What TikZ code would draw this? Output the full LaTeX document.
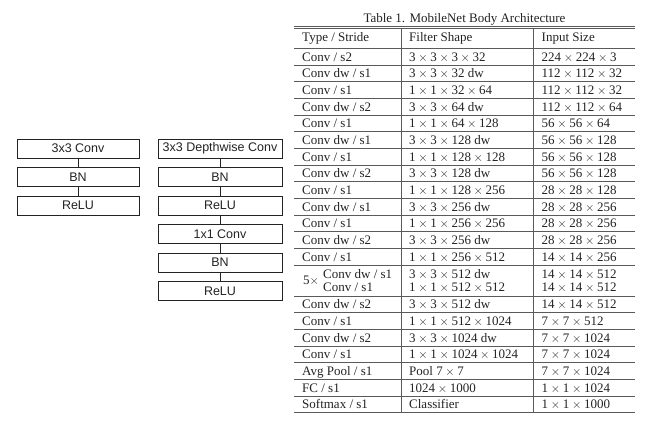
\documentclass[tikz,border=0pt]{standalone}
\usepackage{fontspec}
\setmainfont{Liberation Serif}
\newfontfamily\boxfont{Liberation Sans}
\usepackage{tikz}
\usetikzlibrary{positioning, calc}

\definecolor{inkgray}{RGB}{35, 35, 35}
\definecolor{rulegray}{RGB}{90, 90, 90}

\newcommand{\by}{\ensuremath{{}\times{}}}

\tikzset{
  layerbox/.style={draw=inkgray, line width=0.9pt, minimum height=19pt, inner sep=0pt,
    font=\boxfont\fontsize{12.5}{14}\selectfont, text=inkgray},
  cell/.style={anchor=base west, inner sep=0pt, font=\fontsize{13}{15}\selectfont, text=inkgray},
  tabrule/.style={draw=rulegray, line width=0.8pt}
}

\begin{document}
\begin{tikzpicture}[x=1pt, y=-1pt]
  \useasboundingbox (0,0) rectangle (650,422);

  % Standard convolution block
  \node[layerbox, minimum width=122pt] (sconv) at (78, 148.5) {3x3 Conv};
  \node[layerbox, minimum width=122pt] (sbn) at (78, 177) {BN};
  \node[layerbox, minimum width=122pt] (srelu) at (78, 205.5) {ReLU};
  \draw[inkgray, line width=0.9pt] (sconv) -- (sbn);
  \draw[inkgray, line width=0.9pt] (sbn) -- (srelu);

  % Depthwise separable block
  \node[layerbox, minimum width=124pt] (dwconv) at (220, 148.5) {3x3 Depthwise Conv};
  \node[layerbox, minimum width=124pt] (dwbn) at (220, 177) {BN};
  \node[layerbox, minimum width=124pt] (dwrelu) at (220, 205.5) {ReLU};
  \node[layerbox, minimum width=124pt] (pwconv) at (220, 234) {1x1 Conv};
  \node[layerbox, minimum width=124pt] (pwbn) at (220, 262.5) {BN};
  \node[layerbox, minimum width=124pt] (pwrelu) at (220, 291) {ReLU};
  \foreach \a/\b in {dwconv/dwbn, dwbn/dwrelu, dwrelu/pwconv, pwconv/pwbn, pwbn/pwrelu}
    \draw[inkgray, line width=0.9pt] (\a) -- (\b);

  % Table title and header
  \node[anchor=base, inner sep=0pt, font=\fontsize{13}{15}\selectfont, text=inkgray] (title) at (464.5, 22.5) {Table 1. MobileNet Body Architecture};
  \node[cell] (htype) at (302, 41.8) {Type / Stride};
  \node[cell] (hfilter) at (409, 41.8) {Filter Shape};
  \node[cell] (hinput) at (541.5, 41.8) {Input Size};

  % Table rules
  \draw[tabrule] (294, 26.5) -- (635, 26.5);
  \draw[tabrule] (294, 28.5) -- (635, 28.5);
  \draw[tabrule] (294, 48.3) -- (635, 48.3);
  \foreach \i in {1,...,13}
    \draw[tabrule] (294, {48.3+\i*16.67}) -- (635, {48.3+\i*16.67});
  \foreach \i in {0,...,7}
    \draw[tabrule] (294, {296+\i*16.67}) -- (635, {296+\i*16.67});
  \draw[tabrule] (401, 28.5) -- (401, 412.7);
  \draw[tabrule] (533, 28.5) -- (533, 412.7);

  % Rows before the repeated block
  \foreach \ty/\st/\fs/\is [count=\i] in {
      Conv/s2/{3\by 3\by 3\by 32}/{224\by 224\by 3},
      Conv dw/s1/{3\by 3\by 32 dw}/{112\by 112\by 32},
      Conv/s1/{1\by 1\by 32\by 64}/{112\by 112\by 32},
      Conv dw/s2/{3\by 3\by 64 dw}/{112\by 112\by 64},
      Conv/s1/{1\by 1\by 64\by 128}/{56\by 56\by 64},
      Conv dw/s1/{3\by 3\by 128 dw}/{56\by 56\by 128},
      Conv/s1/{1\by 1\by 128\by 128}/{56\by 56\by 128},
      Conv dw/s2/{3\by 3\by 128 dw}/{56\by 56\by 128},
      Conv/s1/{1\by 1\by 128\by 256}/{28\by 28\by 128},
      Conv dw/s1/{3\by 3\by 256 dw}/{28\by 28\by 256},
      Conv/s1/{1\by 1\by 256\by 256}/{28\by 28\by 256},
      Conv dw/s2/{3\by 3\by 256 dw}/{28\by 28\by 256},
      Conv/s1/{1\by 1\by 256\by 512}/{14\by 14\by 256}} {
    \node[cell] (type\i) at (302, {48.3+(\i-0.5)*16.67+4.4}) {\ty{} / \st};
    \node[cell] (filter\i) at (409, {48.3+(\i-0.5)*16.67+4.4}) {\fs};
    \node[cell] (input\i) at (541.5, {48.3+(\i-0.5)*16.67+4.4}) {\is};
  }

  % Repeated block
  \node[cell] (times) at (303, 284.4) {5$\times$};
  \node[cell] (rdwtype) at (323, 278) {Conv dw / s1};
  \node[cell] (rdwfilter) at (409, 278) {3\by 3\by 512 dw};
  \node[cell] (rdwinput) at (541.5, 278) {14\by 14\by 512};
  \node[cell] (rpwtype) at (323, 291.5) {Conv / s1};
  \node[cell] (rpwfilter) at (409, 291.5) {1\by 1\by 512\by 512};
  \node[cell] (rpwinput) at (541.5, 291.5) {14\by 14\by 512};

  % Rows after the repeated block
  \foreach \ty/\st/\fs/\is [count=\i] in {
      Conv dw/s2/{3\by 3\by 512 dw}/{14\by 14\by 512},
      Conv/s1/{1\by 1\by 512\by 1024}/{7\by 7\by 512},
      Conv dw/s2/{3\by 3\by 1024 dw}/{7\by 7\by 1024},
      Conv/s1/{1\by 1\by 1024\by 1024}/{7\by 7\by 1024},
      Avg Pool/s1/{Pool 7\by 7}/{7\by 7\by 1024},
      FC/s1/{1024\by 1000}/{1\by 1\by 1024},
      Softmax/s1/{Classifier}/{1\by 1\by 1000}} {
    \node[cell] (ltype\i) at (302, {296+(\i-0.5)*16.67+4.4}) {\ty{} / \st};
    \node[cell] (lfilter\i) at (409, {296+(\i-0.5)*16.67+4.4}) {\fs};
    \node[cell] (linput\i) at (541.5, {296+(\i-0.5)*16.67+4.4}) {\is};
  }
\end{tikzpicture}
\end{document}
